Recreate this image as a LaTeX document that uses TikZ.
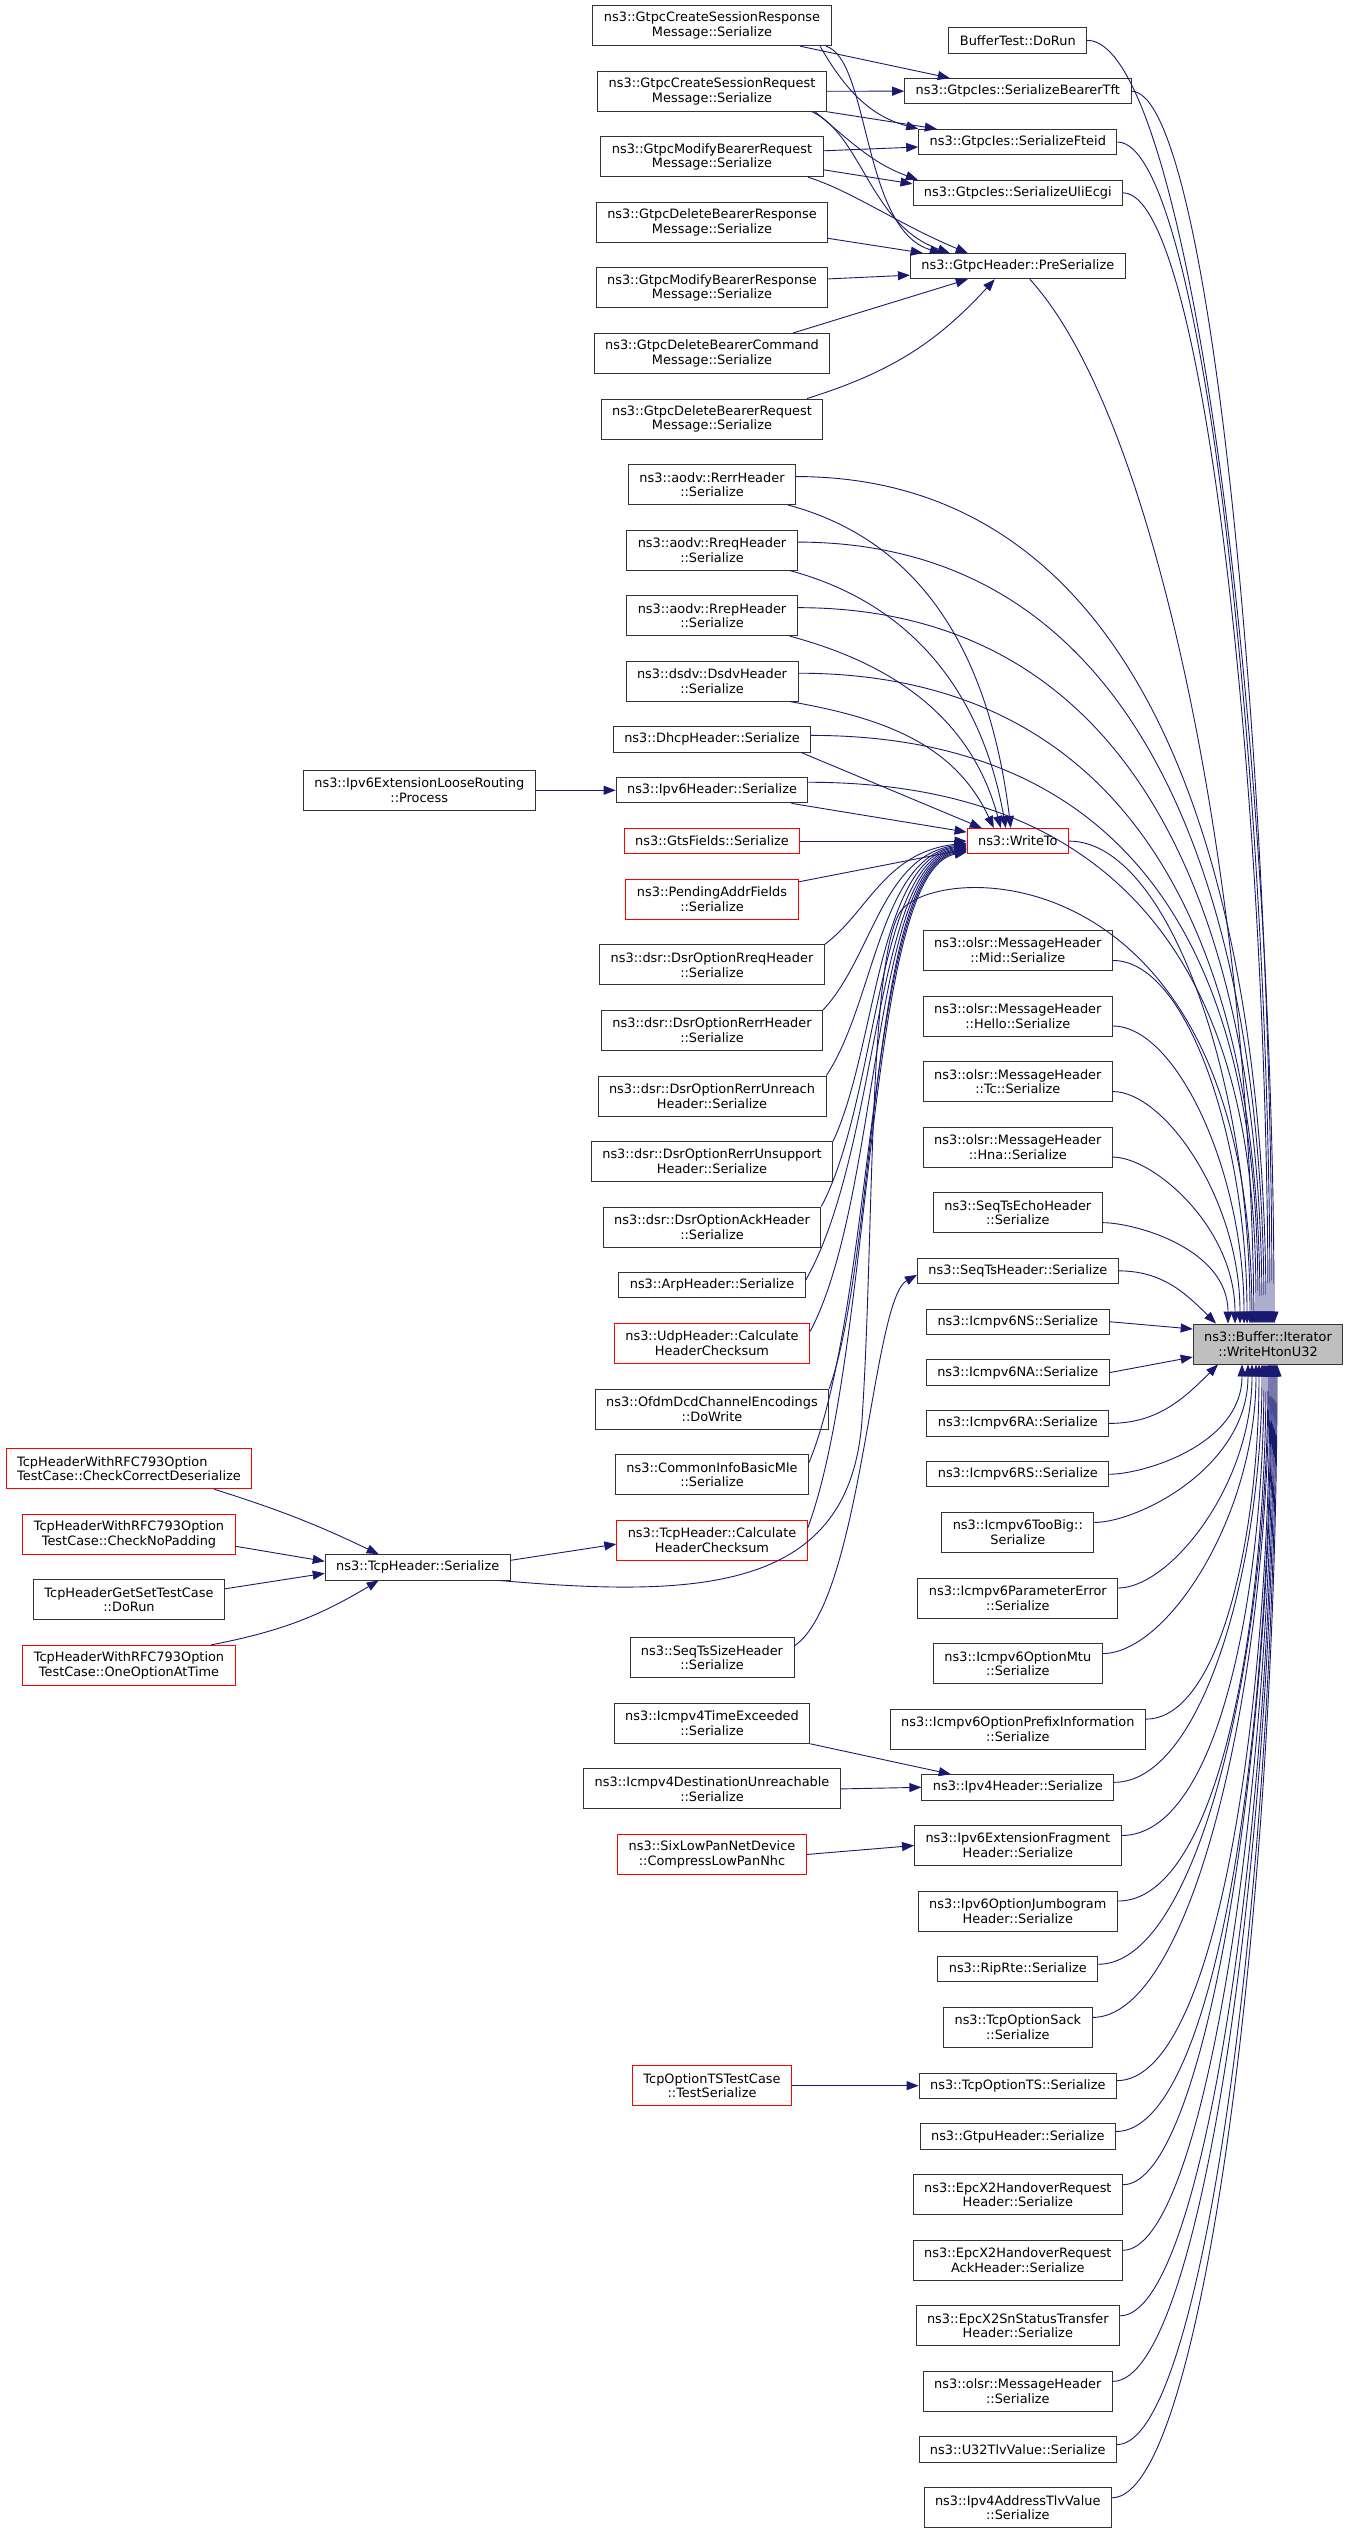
\documentclass[tikz,border=0pt]{standalone}
\usepackage{fontspec}
\setmainfont{DejaVu Sans}
\usetikzlibrary{arrows.meta, positioning}
\definecolor{edgeblue}{HTML}{191970}

\begin{document}
\begin{tikzpicture}[
    x=1pt, y=1pt,
    node distance=24.65pt,
    arr/.style={-{Triangle[length=12pt,width=9pt]}, draw=edgeblue, line width=0.9pt},
    fn/.style={draw=black!80, line width=0.9pt, fill=white, align=center,
        font=\fontsize{12.9pt}{14.7pt}\selectfont,
        inner xsep=11pt, inner ysep=0pt, minimum height=25.3pt},
    fn2/.style={fn, minimum height=40pt},
    fnred/.style={draw=red},
    fnroot/.style={fill=black!25},
    intop/.style={out=0, in=90, out looseness=.5, in looseness=1.2, out max distance=100pt},
    inbot/.style={out=0, in=-90, out looseness=.5, in looseness=1.2, out max distance=100pt},
    longtop/.style={out=0, in=90, out distance=440pt, in looseness=.6},
]

    \path[use as bounding box, fill=white] (0,0) rectangle (1348,-2533);

    \node[fn2] (gResp) at (712,-25.7) {ns3::GtpcCreateSessionResponse\\Message::Serialize};
    \node[fn2, below=of gResp] (gReq) {ns3::GtpcCreateSessionRequest\\Message::Serialize};
    \node[fn2, below=of gReq] (gModReq) {ns3::GtpcModifyBearerRequest\\Message::Serialize};
    \node[fn2, below=of gModReq] (gDelResp) {ns3::GtpcDeleteBearerResponse\\Message::Serialize};
    \node[fn2, below=of gDelResp] (gModResp) {ns3::GtpcModifyBearerResponse\\Message::Serialize};
    \node[fn2, below=of gModResp] (gDelCmd) {ns3::GtpcDeleteBearerCommand\\Message::Serialize};
    \node[fn2, below=of gDelCmd] (gDelReq) {ns3::GtpcDeleteBearerRequest\\Message::Serialize};
    \node[fn2, below=of gDelReq] (aRerr) {ns3::aodv::RerrHeader\\::Serialize};
    \node[fn2, below=of aRerr] (aRreq) {ns3::aodv::RreqHeader\\::Serialize};
    \node[fn2, below=of aRreq] (aRrep) {ns3::aodv::RrepHeader\\::Serialize};
    \node[fn2, below=of aRrep] (dsdv) {ns3::dsdv::DsdvHeader\\::Serialize};
    \node[fn, below=of dsdv] (dhcp) {ns3::DhcpHeader::Serialize};
    \node[fn, below=of dhcp] (ipv6h) {ns3::Ipv6Header::Serialize};
    \node[fn, fnred, below=of ipv6h] (gts) {ns3::GtsFields::Serialize};
    \node[fn2, fnred, below=of gts] (pend) {ns3::PendingAddrFields\\::Serialize};
    \node[fn2, below=of pend] (dRreq) {ns3::dsr::DsrOptionRreqHeader\\::Serialize};
    \node[fn2, below=of dRreq] (dRerr) {ns3::dsr::DsrOptionRerrHeader\\::Serialize};
    \node[fn2, below=of dRerr] (dUnreach) {ns3::dsr::DsrOptionRerrUnreach\\Header::Serialize};
    \node[fn2, below=of dUnreach] (dUnsup) {ns3::dsr::DsrOptionRerrUnsupport\\Header::Serialize};
    \node[fn2, below=of dUnsup] (dAck) {ns3::dsr::DsrOptionAckHeader\\::Serialize};
    \node[fn, below=of dAck] (arp) {ns3::ArpHeader::Serialize};
    \node[fn2, fnred, below=of arp] (udp) {ns3::UdpHeader::Calculate\\HeaderChecksum};
    \node[fn2, below=of udp] (ofdm) {ns3::OfdmDcdChannelEncodings\\::DoWrite};
    \node[fn2, below=of ofdm] (mle) {ns3::CommonInfoBasicMle\\::Serialize};
    \node[fn2, fnred, below=of mle] (tcpCk) {ns3::TcpHeader::Calculate\\HeaderChecksum};
    \node[fn2, below=76.8pt of tcpCk] (seqSize) {ns3::SeqTsSizeHeader\\::Serialize};
    \node[fn2, below=of seqSize] (v4Time) {ns3::Icmpv4TimeExceeded\\::Serialize};
    \node[fn2, below=of v4Time] (v4Dest) {ns3::Icmpv4DestinationUnreachable\\::Serialize};
    \node[fn2, fnred, below=of v4Dest] (sixlow) {ns3::SixLowPanNetDevice\\::CompressLowPanNhc};

    \node[fn] (bufTest) at (1017.8,-40.3) {BufferTest::DoRun};
    \node[fn, below=of bufTest] (bearer) {ns3::GtpcIes::SerializeBearerTft};
    \node[fn, below=of bearer] (fteid) {ns3::GtpcIes::SerializeFteid};
    \node[fn, below=of fteid] (uli) {ns3::GtpcIes::SerializeUliEcgi};
    \node[fn, below=47.1pt of uli] (preSer) {ns3::GtpcHeader::PreSerialize};
    \node[fn, fnred] (wTo) at (bufTest |- gts) {ns3::WriteTo};
    \node[fn2, below=75.8pt of wTo] (oMid) {ns3::olsr::MessageHeader\\::Mid::Serialize};
    \node[fn2, below=of oMid] (oHello) {ns3::olsr::MessageHeader\\::Hello::Serialize};
    \node[fn2, below=of oHello] (oTc) {ns3::olsr::MessageHeader\\::Tc::Serialize};
    \node[fn2, below=of oTc] (oHna) {ns3::olsr::MessageHeader\\::Hna::Serialize};
    \node[fn2, below=of oHna] (seqEcho) {ns3::SeqTsEchoHeader\\::Serialize};
    \node[fn, below=of seqEcho] (seqTs) {ns3::SeqTsHeader::Serialize};
    \node[fn, below=of seqTs] (v6NS) {ns3::Icmpv6NS::Serialize};
    \node[fn, below=of v6NS] (v6NA) {ns3::Icmpv6NA::Serialize};
    \node[fn, below=of v6NA] (v6RA) {ns3::Icmpv6RA::Serialize};
    \node[fn, below=of v6RA] (v6RS) {ns3::Icmpv6RS::Serialize};
    \node[fn2, below=of v6RS] (v6Big) {ns3::Icmpv6TooBig::\\Serialize};
    \node[fn2, below=of v6Big] (v6Param) {ns3::Icmpv6ParameterError\\::Serialize};
    \node[fn2, below=of v6Param] (v6Mtu) {ns3::Icmpv6OptionMtu\\::Serialize};
    \node[fn2, below=of v6Mtu] (v6Prefix) {ns3::Icmpv6OptionPrefixInformation\\::Serialize};
    \node[fn, below=of v6Prefix] (ipv4h) {ns3::Ipv4Header::Serialize};
    \node[fn2, below=of ipv4h] (frag) {ns3::Ipv6ExtensionFragment\\Header::Serialize};
    \node[fn2, below=of frag] (jumbo) {ns3::Ipv6OptionJumbogram\\Header::Serialize};
    \node[fn, below=of jumbo] (rip) {ns3::RipRte::Serialize};
    \node[fn2, below=of rip] (sack) {ns3::TcpOptionSack\\::Serialize};
    \node[fn, below=of sack] (tcpTS) {ns3::TcpOptionTS::Serialize};
    \node[fn, below=of tcpTS] (gtpu) {ns3::GtpuHeader::Serialize};
    \node[fn2, below=of gtpu] (x2Req) {ns3::EpcX2HandoverRequest\\Header::Serialize};
    \node[fn2, below=of x2Req] (x2Ack) {ns3::EpcX2HandoverRequest\\AckHeader::Serialize};
    \node[fn2, below=of x2Ack] (x2Sn) {ns3::EpcX2SnStatusTransfer\\Header::Serialize};
    \node[fn2, below=of x2Sn] (oMsg) {ns3::olsr::MessageHeader\\::Serialize};
    \node[fn, below=of oMsg] (u32) {ns3::U32TlvValue::Serialize};
    \node[fn2, below=of u32] (v4Tlv) {ns3::Ipv4AddressTlvValue\\::Serialize};

    \node[fn2, fnroot] (wHton) at (1268,-1344) {ns3::Buffer::Iterator\\::WriteHtonU32};

    \node[fn2, fnred, align=left] (rfcCCD) at (129,-1468.7) {TcpHeaderWithRFC793Option\\TestCase::CheckCorrectDeserialize};
    \node[fn2, fnred, below=of rfcCCD] (rfcPad) {TcpHeaderWithRFC793Option\\TestCase::CheckNoPadding};
    \node[fn2, below=of rfcPad] (getSet) {TcpHeaderGetSetTestCase\\::DoRun};
    \node[fn2, fnred, below=of getSet] (rfcOne) {TcpHeaderWithRFC793Option\\TestCase::OneOptionAtTime};
    \node[fn] (tcpSer) at (417.7,-1567.3) {ns3::TcpHeader::Serialize};
    \node[fn2, left=80pt of ipv6h] (looseR) {ns3::Ipv6ExtensionLooseRouting\\::Process};
    \node[fn2, fnred] (tsTest) at (gResp |- tcpTS) {TcpOptionTSTestCase\\::TestSerialize};

    \draw[arr] ([xshift=88pt]gResp.south) -- ([xshift=-68pt]bearer.north);
    \draw[arr] (gReq.east) -- (bearer.west);
    \draw[arr] ([xshift=108pt]gResp.south) to[out=-60, in=165] (fteid.north west);
    \draw[arr] (gReq.south east) -- ([xshift=-81pt]fteid.north);
    \draw[arr] ([yshift=6pt]gModReq.east) -- ([yshift=-5pt]fteid.west);
    \draw[arr] ([xshift=103pt]gReq.south) to[out=-40, in=160] ([xshift=-100pt]uli.north);
    \draw[arr] ([yshift=-13pt]gModReq.east) -- ([yshift=9pt]uli.west);
    \draw[arr] ([xshift=114pt]gResp.south) .. controls (870,-60) and (862,-230) .. ([xshift=-76pt]preSer.north);
    \draw[arr] ([xshift=100pt]gReq.south) .. controls (862,-135) and (870,-225) .. ([xshift=-68pt]preSer.north);
    \draw[arr] ([xshift=96pt]gModReq.south) .. controls (850,-190) and (900,-225) .. ([xshift=-50pt]preSer.north);
    \draw[arr] ([yshift=-16pt]gDelResp.east) -- ([xshift=-95pt]preSer.north);
    \draw[arr] ([yshift=9pt]gModResp.east) -- ([yshift=-9pt]preSer.west);
    \draw[arr] ([xshift=81pt]gDelCmd.north) -- ([xshift=-50pt]preSer.south);
    \draw[arr] ([xshift=95pt]gDelReq.north) to[bend right=15] ([xshift=-23pt]preSer.south);

    \draw[arr] ([xshift=85pt]rfcCCD.south) to[bend left=4] ([xshift=-39pt]tcpSer.north);
    \draw[arr] ([yshift=-12pt]rfcPad.east) -- ([yshift=6pt]tcpSer.west);
    \draw[arr] ([yshift=11pt]getSet.east) -- ([yshift=-6pt]tcpSer.west);
    \draw[arr] ([xshift=82pt]rfcOne.north) to[bend right=10] ([xshift=-39pt]tcpSer.south);
    \draw[arr] ([yshift=7pt]tcpSer.east) -- ([yshift=-4pt]tcpCk.west);
    \draw[arr] ([xshift=-12pt]tcpSer.south east) .. controls (700,-1598) and (850,-1592) .. (862,-1420)
        .. controls (874,-1240) and (868,-965) .. (900,-912)
        .. controls (935,-860) and (1250,-850) .. ([xshift=-16pt]wHton.north);

    \draw[arr] (looseR.east) -- (ipv6h.west);
    \draw[arr] (v4Time.south east) -- ([xshift=-67pt]ipv4h.north);
    \draw[arr] (v4Dest.east) -- (ipv4h.west);
    \draw[arr] (sixlow.east) -- (frag.west);
    \draw[arr] (tsTest.east) -- (tcpTS.west);
    \draw[arr] ([yshift=12pt]seqSize.east) .. controls (862,-1600) and (872,-1300) .. ([yshift=-4pt]seqTs.west);

    \draw[arr] ([xshift=-8pt]aRerr.south east) to[out=-15, in=97] ([xshift=-7pt]wTo.north);
    \draw[arr] ([xshift=-8pt]aRreq.south east) to[out=-15, in=100] ([xshift=-12pt]wTo.north);
    \draw[arr] ([xshift=-8pt]aRrep.south east) to[out=-15, in=105] ([xshift=-17pt]wTo.north);
    \draw[arr] ([xshift=-8pt]dsdv.south east) to[out=-10, in=115] ([xshift=-24pt]wTo.north);
    \draw[arr] ([xshift=-10pt]dhcp.south east) -- ([xshift=-36pt]wTo.north);
    \draw[arr] ([xshift=-17pt]ipv6h.south east) -- ([yshift=9pt]wTo.west);
    \draw[arr] (gts.east) -- (wTo.west);
    \draw[arr] ([yshift=-3pt]pend.north east) -- ([yshift=-8pt]wTo.west);
    \draw[arr] (dRreq.north east) .. controls (868,-912) and (885,-852) .. ([yshift=-2pt]wTo.west);
    \draw[arr] (dRerr.north east) .. controls (872,-958) and (882,-855) .. ([yshift=-3pt]wTo.west);
    \draw[arr] (dUnreach.north east) .. controls (874,-1004) and (880,-857) .. ([yshift=-4pt]wTo.west);
    \draw[arr] (dUnsup.north east) .. controls (876,-1050) and (878,-858) .. ([yshift=-5pt]wTo.west);
    \draw[arr] (dAck.north east) .. controls (878,-1100) and (876,-860) .. ([yshift=-6pt]wTo.west);
    \draw[arr] ([yshift=5pt]arp.east) .. controls (880,-1150) and (874,-862) .. ([yshift=-7pt]wTo.west);
    \draw[arr] ([yshift=12pt]udp.east) .. controls (880,-1200) and (872,-864) .. ([yshift=-8pt]wTo.west);
    \draw[arr] (ofdm.north east) .. controls (878,-1250) and (870,-866) .. ([yshift=-9pt]wTo.west);
    \draw[arr] ([yshift=12pt]mle.east) .. controls (876,-1300) and (868,-868) .. ([yshift=-10pt]wTo.west);
    \draw[arr] ([yshift=12pt]tcpCk.east) .. controls (874,-1350) and (866,-870) .. ([yshift=-11pt]wTo.west);

    \draw[arr] ([yshift=8pt]aRerr.east) to[longtop] ([xshift=-2pt]wHton.north);
    \draw[arr] ([yshift=8pt]aRreq.east) to[longtop] ([xshift=-4pt]wHton.north);
    \draw[arr] ([yshift=8pt]aRrep.east) to[longtop] ([xshift=-6pt]wHton.north);
    \draw[arr] ([yshift=8pt]dsdv.east) to[longtop] ([xshift=-8pt]wHton.north);
    \draw[arr] ([yshift=4pt]dhcp.east) to[longtop] ([xshift=-10pt]wHton.north);
    \draw[arr] ([yshift=8pt]ipv6h.east) to[longtop] ([xshift=-12pt]wHton.north);

    \draw[arr] (bufTest.east) .. controls +(100,0) and +(0,603) .. ([xshift=6pt]wHton.north);
    \draw[arr] (bearer.east) .. controls +(77,0) and +(0,580) .. ([xshift=4pt]wHton.north);
    \draw[arr] (fteid.east) .. controls +(84,0) and +(0,555) .. ([xshift=2pt]wHton.north);
    \draw[arr] (uli.east) .. controls +(80,0) and +(0,532) .. (wHton.north);
    \draw[arr] ([xshift=12pt]preSer.south) .. controls +(130,-142) and +(-4,424) .. ([xshift=-14pt]wHton.north);
    \draw[arr] (wTo.east) to[intop] ([xshift=-18pt]wHton.north);
    \draw[arr] ([yshift=-10pt]oMid.east) to[intop] ([xshift=-21pt]wHton.north);
    \draw[arr] ([yshift=-10pt]oHello.east) to[intop] ([xshift=-24pt]wHton.north);
    \draw[arr] ([yshift=-10pt]oTc.east) to[intop] ([xshift=-28pt]wHton.north);
    \draw[arr] ([yshift=-10pt]oHna.east) to[intop] ([xshift=-33pt]wHton.north);
    \draw[arr] ([yshift=-10pt]seqEcho.east) to[intop] ([xshift=-40pt]wHton.north);
    \draw[arr] (seqTs.east) to[out=0, in=135] ([xshift=-52pt]wHton.north);
    \draw[arr] (v6NS.east) -- ([yshift=15pt]wHton.west);
    \draw[arr] (v6NA.east) -- ([yshift=-13pt]wHton.west);
    \draw[arr] (v6RA.east) to[out=0, in=-135] ([xshift=-50pt]wHton.south);
    \draw[arr] (v6RS.east) to[inbot] ([xshift=-26pt]wHton.south);
    \draw[arr] ([yshift=10pt]v6Big.east) to[inbot] ([xshift=-20pt]wHton.south);
    \draw[arr] ([yshift=10pt]v6Param.east) to[inbot] ([xshift=-16pt]wHton.south);
    \draw[arr] ([yshift=10pt]v6Mtu.east) to[inbot] ([xshift=-12pt]wHton.south);
    \draw[arr] ([yshift=10pt]v6Prefix.east) to[inbot] ([xshift=-9pt]wHton.south);
    \draw[arr] ([yshift=5pt]ipv4h.east) to[inbot] ([xshift=-6pt]wHton.south);
    \draw[arr] ([yshift=10pt]frag.east) to[inbot] ([xshift=-4pt]wHton.south);
    \draw[arr] ([yshift=10pt]jumbo.east) to[inbot] ([xshift=-2pt]wHton.south);
    \draw[arr] ([yshift=5pt]rip.east) to[inbot] (wHton.south);
    \draw[arr] ([yshift=10pt]sack.east) to[inbot] ([xshift=1pt]wHton.south);
    \draw[arr] ([yshift=5pt]tcpTS.east) to[inbot] ([xshift=2pt]wHton.south);
    \draw[arr] ([yshift=5pt]gtpu.east) to[inbot] ([xshift=3pt]wHton.south);
    \draw[arr] ([yshift=10pt]x2Req.east) .. controls +(82,0) and +(0,-385) .. ([xshift=4pt]wHton.south);
    \draw[arr] ([yshift=10pt]x2Ack.east) .. controls +(82,0) and +(0,-416) .. ([xshift=5pt]wHton.south);
    \draw[arr] ([yshift=10pt]x2Sn.east) .. controls +(85,0) and +(0,-447) .. ([xshift=6pt]wHton.south);
    \draw[arr] ([yshift=10pt]oMsg.east) .. controls +(89,0) and +(0,-477) .. ([xshift=7pt]wHton.south);
    \draw[arr] ([yshift=5pt]u32.east) .. controls +(87,0) and +(0,-507) .. ([xshift=8pt]wHton.south);
    \draw[arr] ([yshift=10pt]v4Tlv.east) .. controls +(91,0) and +(0,-533) .. ([xshift=9pt]wHton.south);

\end{tikzpicture}
\end{document}
